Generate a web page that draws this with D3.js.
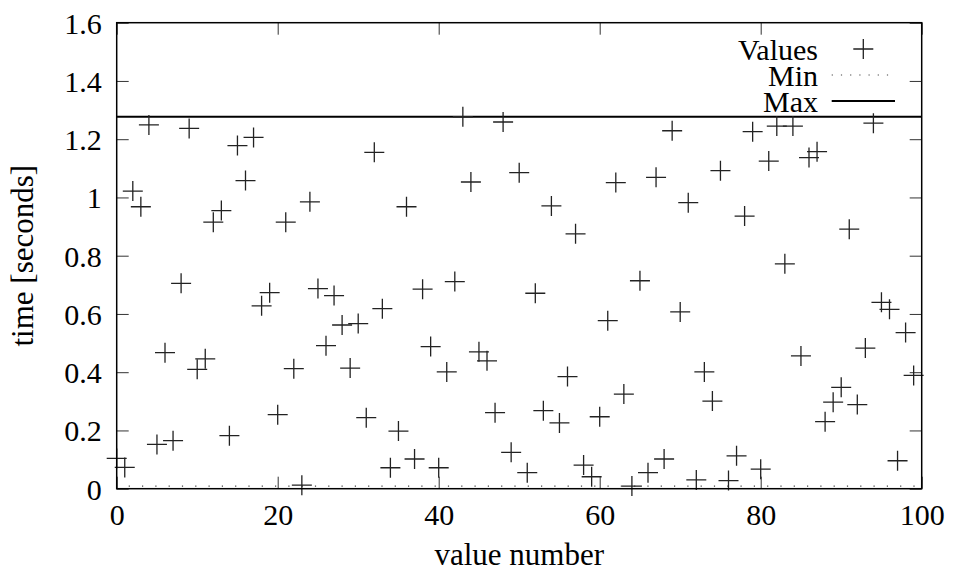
<!DOCTYPE html>
<html>
<head>
<meta charset="utf-8">
<script src="https://cdn.jsdelivr.net/npm/d3@7"></script>
<style>
  html, body { margin: 0; padding: 0; background: #fff; }
  svg { display: block; }
</style>
</head>
<body>
<svg id="chart" width="954" height="572"></svg>
<script>
// ---- data ----
const valueNumbers = d3.range(100);
const times = [
  0.104, 0.073, 1.022, 0.968, 1.249, 0.152, 0.467, 0.165, 0.705, 1.237,
  0.410, 0.446, 0.915, 0.955, 0.182, 1.178, 1.058, 1.206, 0.628, 0.673,
  0.254, 0.915, 0.412, 0.012, 0.985, 0.687, 0.491, 0.663, 0.562, 0.414,
  0.567, 0.244, 1.155, 0.618, 0.072, 0.198, 0.968, 0.102, 0.685, 0.488,
  0.072, 0.401, 0.711, 1.277, 1.053, 0.470, 0.439, 0.261, 1.259, 0.125,
  1.085, 0.055, 0.671, 0.268, 0.971, 0.226, 0.385, 0.875, 0.081, 0.041,
  0.247, 0.577, 1.051, 0.325, 0.009, 0.714, 0.055, 1.069, 0.102, 1.229,
  0.607, 0.982, 0.030, 0.401, 0.301, 1.092, 0.028, 0.113, 0.936, 1.226,
  0.067, 1.125, 1.245, 0.772, 1.245, 0.456, 1.137, 1.157, 0.230, 0.297,
  0.348, 0.891, 0.289, 0.483, 1.255, 0.640, 0.616, 0.096, 0.536, 0.389
];
const xTicks = [0, 20, 40, 60, 80, 100];
const xTickLabels = ["0", "20", "40", "60", "80", "100"];
const yTicks = [0, 0.2, 0.4, 0.6, 0.8, 1, 1.2, 1.4, 1.6];
const yTickLabels = ["0", "0.2", "0.4", "0.6", "0.8", "1", "1.2", "1.4", "1.6"];
const legendLabels = ["Values", "Min", "Max"];
const xTitle = "value number";
const yTitle = "time [seconds]";

const FONT = "'Liberation Serif', 'DejaVu Serif', serif";

// ---- layout ----
const L = 116.7, R = 921.7, T = 22.7, B = 488.7;
const svg = d3.select("#chart");
const x = d3.scaleLinear().domain([0, 100]).range([L, R]);
const y = d3.scaleLinear().domain([0, 1.6]).range([B, T]);

const minV = d3.min(times), maxV = d3.max(times);

// axes with inward ticks
const tick = 12;
function styleAxis(g) {
  g.attr("font-family", FONT).attr("font-size", 30);
  g.select(".domain").remove();
  g.selectAll(".tick line").attr("stroke", "#333").attr("stroke-width", 1);
  g.selectAll(".tick text").attr("fill", "#000")
    .style("font-family", FONT).style("font-size", "30px");
}
svg.append("g").attr("transform", `translate(0,${B})`)
  .call(d3.axisBottom(x).tickValues(xTicks).tickSizeInner(-tick).tickSizeOuter(0)
    .tickFormat((d, i) => xTickLabels[i]))
  .call(styleAxis)
  .call(g => g.selectAll(".tick text").attr("dy", null).attr("y", 36));
svg.append("g").attr("transform", `translate(0,${T})`)
  .call(d3.axisTop(x).tickValues(xTicks).tickSizeInner(-tick).tickSizeOuter(0).tickFormat(""))
  .call(styleAxis);
svg.append("g").attr("transform", `translate(${L},0)`)
  .call(d3.axisLeft(y).tickValues(yTicks).tickSizeInner(-tick).tickSizeOuter(0)
    .tickFormat((d, i) => yTickLabels[i]))
  .call(styleAxis)
  .call(g => g.selectAll(".tick text").attr("x", -15).attr("dy", null).attr("y", 10.5));
svg.append("g").attr("transform", `translate(${R},0)`)
  .call(d3.axisRight(y).tickValues(yTicks).tickSizeInner(-tick).tickSizeOuter(0).tickFormat(""))
  .call(styleAxis);

// Min (dotted) and Max (solid) lines
svg.append("line")
  .attr("x1", x(0)).attr("x2", x(100)).attr("y1", y(minV)).attr("y2", y(minV))
  .attr("stroke", "#444").attr("stroke-width", 1.4).attr("stroke-dasharray", "1.2,12.1")
  .attr("stroke-dashoffset", -12);
svg.append("line")
  .attr("x1", x(0)).attr("x2", x(100)).attr("y1", y(maxV)).attr("y2", y(maxV))
  .attr("stroke", "#000").attr("stroke-width", 2);

// points as plus markers
const arm = 10;
const pts = svg.append("g").attr("stroke", "#222").attr("stroke-width", 1.3);
valueNumbers.forEach((n, i) => {
  const cx = x(n), cy = y(times[i]);
  pts.append("path").attr("d", `M${cx - arm},${cy}H${cx + arm}M${cx},${cy - arm}V${cy + arm}`);
});

// frame
svg.append("rect").attr("x", L).attr("y", T).attr("width", R - L).attr("height", B - T)
  .attr("fill", "none").attr("stroke", "#000").attr("stroke-width", 1.5);

// axis titles
svg.append("text").attr("x", (L + R) / 2).attr("y", 565).attr("text-anchor", "middle")
  .style("font-family", FONT).style("font-size", "31px").text(xTitle);
svg.append("text").attr("transform", `translate(33,${(T + B) / 2}) rotate(-90)`)
  .attr("text-anchor", "middle").style("font-family", FONT).style("font-size", "31px").text(yTitle);

// legend
const legY = [49, 75, 101];
const lg = svg.append("g");
legendLabels.forEach((lab, i) => {
  lg.append("text").attr("x", 818).attr("y", legY[i] + 10.5).attr("text-anchor", "end")
    .style("font-family", FONT).style("font-size", "30px").text(lab);
});
lg.append("path").attr("d", `M${863.3 - arm},${legY[0]}H${863.3 + arm}M863.3,${legY[0] - arm}V${legY[0] + arm}`)
  .attr("stroke", "#222").attr("stroke-width", 1.3);
lg.append("line").attr("x1", 831.7).attr("x2", 896).attr("y1", legY[1]).attr("y2", legY[1])
  .attr("stroke", "#444").attr("stroke-width", 1.2).attr("stroke-dasharray", "1.2,8");
lg.append("line").attr("x1", 831.7).attr("x2", 895).attr("y1", legY[2]).attr("y2", legY[2])
  .attr("stroke", "#000").attr("stroke-width", 2);
</script>
</body>
</html>
